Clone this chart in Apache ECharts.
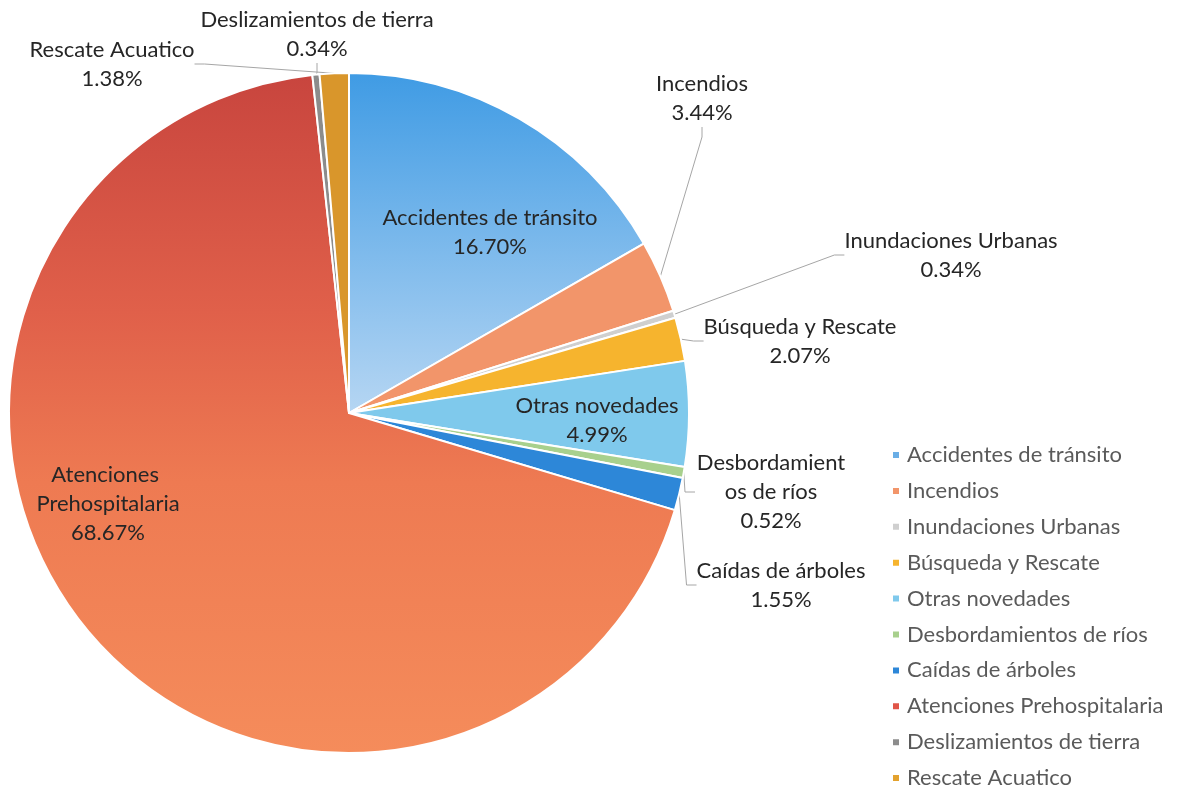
<!DOCTYPE html>
<html><head><meta charset="utf-8">
<script src="https://cdn.jsdelivr.net/npm/echarts@6/dist/echarts.min.js"></script>
<style>html,body{margin:0;padding:0;background:#fff}#c{width:1183px;height:788px}</style>
</head><body><div id="c"></div>
<script>
const categories = ["Accidentes de tránsito","Incendios","Inundaciones Urbanas","Búsqueda y Rescate","Otras novedades","Desbordamientos de ríos","Caídas de árboles","Atenciones Prehospitalaria","Deslizamientos de tierra","Rescate Acuatico"];
const values = [16.70, 3.44, 0.34, 2.07, 4.99, 0.52, 1.55, 68.67, 0.34, 1.38];

const FONT = 'Lato';
const colors = [
  new echarts.graphic.LinearGradient(0,0,0,1,[{offset:0,color:'#3f9be4'},{offset:1,color:'#b6d6f3'}]),
  '#f2956a','#cfcfcf','#f6b42e','#7fc9ec','#a8d08d','#2d87d8',
  new echarts.graphic.LinearGradient(0,0,0,1,[{offset:0,color:'#c8453e'},{offset:0.35,color:'#e0604a'},{offset:0.6,color:'#ee7a52'},{offset:1,color:'#f58c5b'}]),
  '#8c8c8c','#d9962b'
];
const legendColors = ['#6aaee6','#f2956a','#cfcfcf','#f6b42e','#7fc9ec','#a8d08d','#2d87d8','#e05548','#8c8c8c','#e3a22e'];
// label placement (style only)
const labelPos = {
  0:{x:490,y:232,inside:true},
  1:{x:702,y:98},
  2:{x:951,y:255},
  3:{x:800,y:341},
  4:{x:597,y:420,inside:true},
  5:{x:771,y:492,w:152,ov:'breakAll'},
  6:{x:781,y:585},
  7:{x:108,y:504,inside:true,w:175,ov:'break'},
  8:{x:317,y:34},
  9:{x:112,y:64}
};

const data = categories.map((n,i)=>({
  name:n, value:values[i],
  itemStyle:{color:colors[i]},
  label: labelPos[i].w ? {width:labelPos[i].w, overflow:labelPos[i].ov} : {overflow:'none'},
  labelLine:{show: !labelPos[i].inside}
}));

const chart = echarts.init(document.getElementById('c'));
chart.setOption({
  animation:false,
  backgroundColor:'#ffffff',
  legend:{
    orient:'vertical', left:891, top:444, height:380, padding:0, itemGap:13.9,
    itemWidth:8, itemHeight:8, icon:'rect',
    data: categories.map((n,i)=>({name:n,itemStyle:{color:legendColors[i]}})),
    textStyle:{fontFamily:FONT,fontSize:22,color:'#5a5a5a',padding:[0,0,0,2]}
  },
  series:[{
    type:'pie',
    center:[349,413], radius:340,
    startAngle:90, clockwise:true,
    data:data,
    itemStyle:{borderColor:'#ffffff',borderWidth:2},
    label:{
      show:true, position:'outside',
      formatter:p=>p.name+'\n'+p.value.toFixed(2)+'%',
      fontFamily:FONT, fontSize:22, color:'#262626', lineHeight:29, align:'center'
    },
    labelLine:{show:true,length:10,length2:10,lineStyle:{color:'#a6a6a6',width:1}},
    labelLayout:function(p){
      const lp = labelPos[p.dataIndex];
      return {x:lp.x, y:lp.y, align:'center', verticalAlign:'middle'};
    }
  }]
});
</script></body></html>
